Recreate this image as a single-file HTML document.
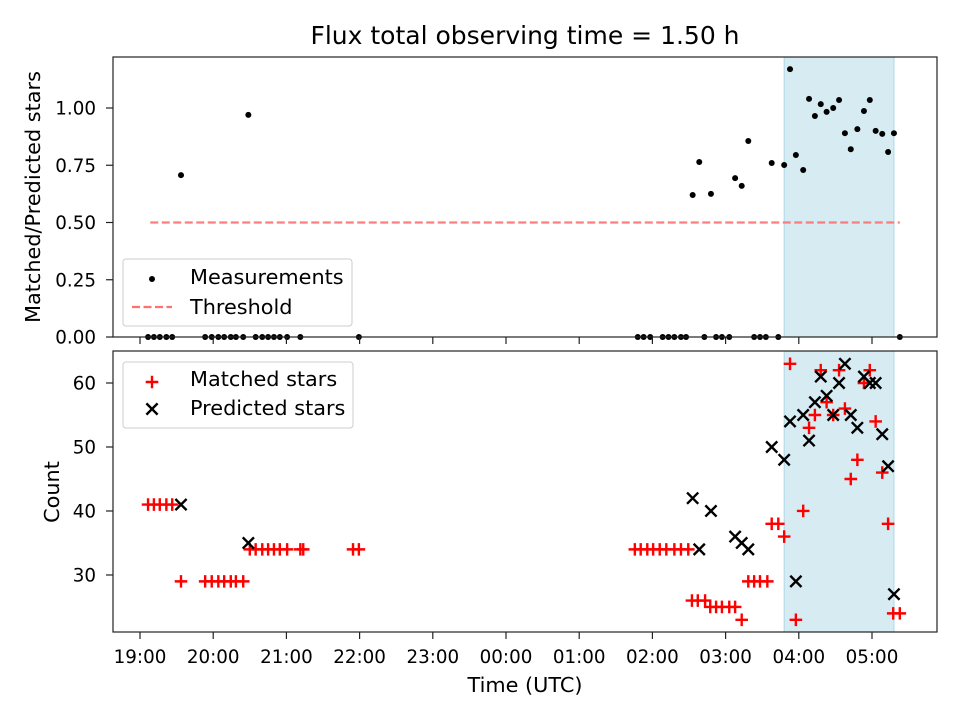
<!DOCTYPE html>
<html><head><meta charset="utf-8"><style>
html,body{margin:0;padding:0;background:#fff}
svg{display:block;font-family:"DejaVu Sans","Liberation Sans",sans-serif}
</style></head><body>
<svg id="chart" width="960" height="720" xmlns="http://www.w3.org/2000/svg">
<text x="525" y="44" font-size="25" text-anchor="middle">Flux total observing time = 1.50 h</text>
<g id="topPanel"></g>
<g id="botPanel"></g>
<text x="525" y="692" font-size="20.8" text-anchor="middle">Time (UTC)</text>
<text transform="translate(40,197) rotate(-90)" font-size="20.8" text-anchor="middle">Matched/Predicted stars</text>
<text transform="translate(59,492) rotate(-90)" font-size="20.8" text-anchor="middle">Count</text>
</svg>
<script>
// hours since 19:00 UTC
const xTickLabels = ["19:00","20:00","21:00","22:00","23:00","00:00","01:00","02:00","03:00","04:00","05:00"];
const ratioTimes = [0.56,1.48,7.55,7.64,7.80,8.13,8.22,8.31,8.63,8.80,8.88,8.96,9.06,9.14,9.22,9.30,9.38,9.47,9.55,9.63,9.71,9.80,9.89,9.97,10.05,10.14,10.22,10.30];
const ratioValues = [0.707,0.97,0.62,0.764,0.625,0.694,0.66,0.856,0.76,0.751,1.17,0.795,0.729,1.04,0.965,1.017,0.983,1.0,1.035,0.89,0.82,0.908,0.987,1.035,0.9,0.887,0.808,0.89];
const zeroTimes = [0.11,0.19,0.27,0.36,0.44,0.89,0.98,1.07,1.15,1.24,1.31,1.41,1.58,1.67,1.75,1.83,1.91,2.01,2.19,2.99,6.80,6.88,6.97,7.14,7.22,7.30,7.39,7.46,7.71,7.87,7.95,8.05,8.39,8.47,8.55,8.72,10.38];
const threshold = 0.5;
const thresholdRange = [0.14,10.38];
const spanRange = [8.80,10.30];
const matchedTimes = [0.11,0.19,0.27,0.36,0.44,0.56,0.89,0.98,1.07,1.15,1.24,1.31,1.41,1.50,1.58,1.67,1.75,1.83,1.91,2.01,2.19,2.23,2.91,2.99,6.76,6.84,6.93,7.01,7.10,7.19,7.30,7.39,7.49,7.54,7.62,7.72,7.79,7.87,7.95,8.05,8.13,8.22,8.31,8.39,8.47,8.57,8.63,8.72,8.80,8.88,8.96,9.06,9.14,9.22,9.30,9.38,9.47,9.55,9.63,9.71,9.80,9.89,9.97,10.05,10.14,10.22,10.29,10.38];
const matchedValues = [41,41,41,41,41,29,29,29,29,29,29,29,29,34,34,34,34,34,34,34,34,34,34,34,34,34,34,34,34,34,34,34,34,26,26,26,25,25,25,25,25,23,29,29,29,29,38,38,36,63,23,40,53,55,62,57,55,62,56,45,48,60,62,54,46,38,24,24];
const predTimes = [0.56,1.48,7.55,7.64,7.80,8.13,8.22,8.31,8.63,8.80,8.88,8.96,9.06,9.14,9.22,9.30,9.38,9.47,9.55,9.63,9.71,9.80,9.89,9.97,10.05,10.14,10.22,10.30];
const predValues = [41,35,42,34,40,36,35,34,50,48,54,29,55,51,57,61,58,55,60,63,55,53,61,60,60,52,47,27];
const topYTicks = [0,0.25,0.5,0.75,1.0];
const topYLabels = ["0.00","0.25","0.50","0.75","1.00"];
const botYTicks = [30,40,50,60];

const NS="http://www.w3.org/2000/svg";
const L=113,R=937;
const X0=-0.369,X1=10.888;
const FS=20.8, TFS=18.3;
const xs=h=>L+(h-X0)/(X1-X0)*(R-L);
const TP={top:57,bot:337,y0:0,y1:1.2227};
const BP={top:351,bot:632,y0:21.09,y1:65.0};
const ys=(P,v)=>P.bot-(v-P.y0)/(P.y1-P.y0)*(P.bot-P.top);
function mk(parent,tag,attrs,text){const e=document.createElementNS(NS,tag);for(const k in attrs)e.setAttribute(k,attrs[k]);if(text!==undefined)e.textContent=text;parent.appendChild(e);return e;}
const topG=document.getElementById('topPanel'),botG=document.getElementById('botPanel');

function panel(g,P,name){
  let s=mk(g,'rect',{x:xs(spanRange[0]),y:P.top,width:xs(spanRange[1])-xs(spanRange[0]),height:P.bot-P.top,fill:'#add8e6','fill-opacity':0.5,stroke:'#add8e6','stroke-width':1});
  
  
}
panel(topG,TP,'top');panel(botG,BP,'bottom');

let th=mk(topG,'line',{x1:xs(thresholdRange[0]),x2:xs(thresholdRange[1]),y1:ys(TP,threshold),y2:ys(TP,threshold),stroke:'#ff7070','stroke-opacity':0.9,'stroke-width':2.2,'stroke-dasharray':'8,3.5'});



ratioTimes.forEach((h,i)=>{
  const c=mk(topG,'circle',{cx:xs(h),cy:ys(TP,ratioValues[i]),r:3,fill:'#000'});
  
  
});
zeroTimes.forEach(h=>{
  const c=mk(topG,'circle',{cx:xs(h),cy:ys(TP,0),r:3,fill:'#000'});
  
  
});
function plus(g,x,y){return mk(g,'path',{d:`M${x-6.3},${y}H${x+6.3}M${x},${y-6.3}V${y+6.3}`,stroke:'#f00','stroke-width':2.4,fill:'none'});}
function cross(g,x,y){return mk(g,'path',{d:`M${x-5.6},${y-5.6}L${x+5.6},${y+5.6}M${x-5.6},${y+5.6}L${x+5.6},${y-5.6}`,stroke:'#000','stroke-width':2.4,fill:'none'});}
matchedTimes.forEach((h,i)=>{
  const p=plus(botG,xs(h),ys(BP,matchedValues[i]));
  
  
});
predTimes.forEach((h,i)=>{
  const p=cross(botG,xs(h),ys(BP,predValues[i]));
  
  
});

function frame(g,P,name){
  const f=mk(g,'rect',{x:L,y:P.top,width:R-L,height:P.bot-P.top,fill:'none',stroke:'#222','stroke-width':1.2});
  
  
  xTickLabels.forEach((lab,i)=>{
    const x=xs(i);
    const t=mk(g,'line',{x1:x,x2:x,y1:P.bot,y2:P.bot+7,stroke:'#222','stroke-width':1.2});
    
    
  });
}
frame(topG,TP,'top');frame(botG,BP,'bottom');
xTickLabels.forEach((lab,i)=>{
  const t=mk(botG,'text',{x:xs(i),y:663,'font-size':TFS,'text-anchor':'middle'},lab);
  
  
});
topYTicks.forEach((v,i)=>{
  const y=ys(TP,v);
  mk(topG,'line',{x1:L-7,x2:L,y1:y,y2:y,stroke:'#222','stroke-width':1.2});
  const t=mk(topG,'text',{x:96,y:y+6.6,'font-size':TFS,'text-anchor':'end'},topYLabels[i]);
  
  
});
botYTicks.forEach(v=>{
  const y=ys(BP,v);
  mk(botG,'line',{x1:L-7,x2:L,y1:y,y2:y,stroke:'#222','stroke-width':1.2});
  const t=mk(botG,'text',{x:96,y:y+6.6,'font-size':TFS,'text-anchor':'end'},String(v));
  
  
});

let lg=mk(topG,'g',{});


mk(lg,'rect',{x:123,y:259,width:229,height:67,rx:3,fill:'#fff','fill-opacity':0.8,stroke:'#ccc'});
mk(lg,'circle',{cx:152,cy:279,r:3,fill:'#000'});
mk(lg,'text',{x:190,y:284,'font-size':FS},'Measurements');
mk(lg,'line',{x1:132,x2:172,y1:307,y2:307,stroke:'#ff7070','stroke-width':2.2,'stroke-dasharray':'8,3.5'});
mk(lg,'text',{x:190,y:314,'font-size':FS},'Threshold');
let lb=mk(botG,'g',{});


mk(lb,'rect',{x:123,y:362,width:230,height:66,rx:3,fill:'#fff','fill-opacity':0.8,stroke:'#ccc'});
plus(lb,152,382);
mk(lb,'text',{x:190,y:386,'font-size':FS},'Matched stars');
cross(lb,152,409);
mk(lb,'text',{x:190,y:415,'font-size':FS},'Predicted stars');
</script>
</body></html>
